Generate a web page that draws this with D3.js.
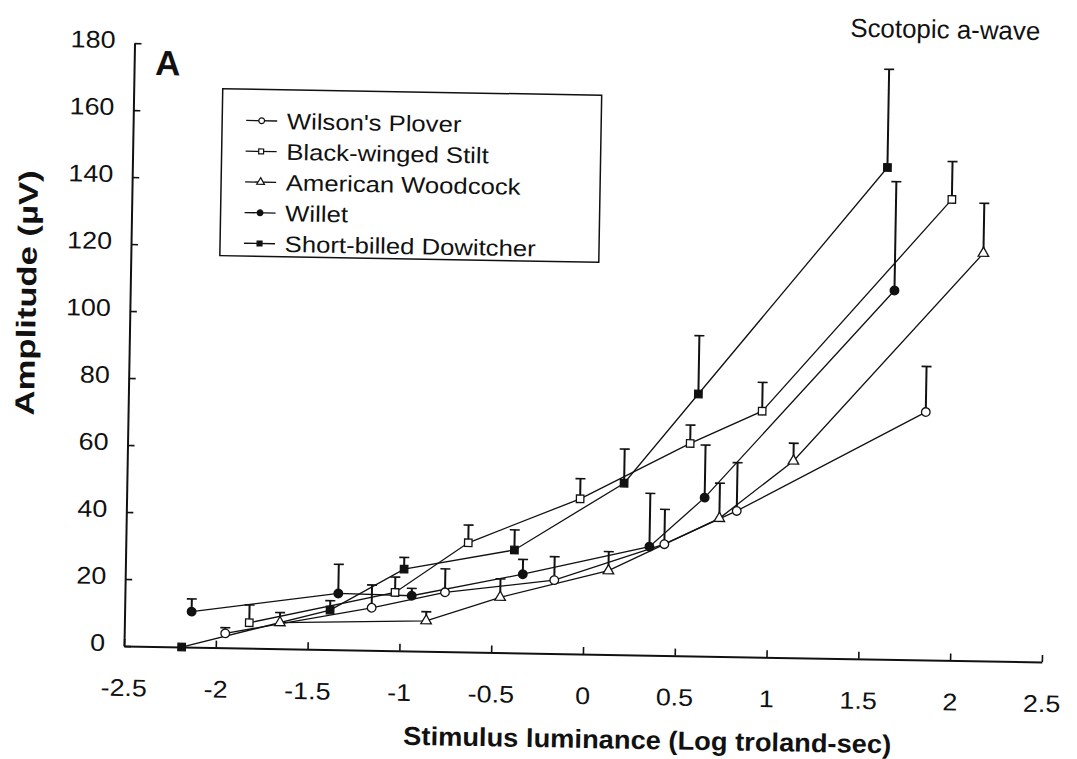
<!DOCTYPE html>
<html>
<head>
<meta charset="utf-8">
<script src="https://cdn.jsdelivr.net/npm/d3@7"></script>
<style>
  html, body { margin: 0; padding: 0; background: #ffffff; }
  svg { display: block; }
  text { font-family: "Liberation Sans", Arial, Helvetica, sans-serif; fill: #111; }
</style>
</head>
<body>
<svg id="chart" width="1077" height="759"></svg>
<script>
// ---- data: stimulus luminance (log troland-sec) vs a-wave amplitude (µV), mean + SE ----
const xTicks = [-2.5, -2, -1.5, -1, -0.5, 0, 0.5, 1, 1.5, 2, 2.5];
const yTicks = [0, 20, 40, 60, 80, 100, 120, 140, 160, 180];

const speciesNames = ["Wilson's Plover", "Black-winged Stilt", "American Woodcock", "Willet", "Short-billed Dowitcher"];
const speciesMarkers = ["circle", "square", "triangle", "circle", "square"];
const speciesFilled = [false, false, false, true, true];

const ploverX = [-1.95, -1.155, -0.757, -0.163, 0.433, 0.824, 1.844];
const ploverY = [4.3, 12.7, 17.7, 21.9, 33.2, 43.5, 74.0];
const ploverSE = [1.7, 6.8, 7.0, 7.0, 10.4, 14.4, 13.6];

const stiltX = [-1.82, -1.029, -0.635, -0.03, 0.564, 0.953, 1.966];
const stiltY = [7.6, 17.4, 32.6, 46.3, 63.4, 73.4, 137.6];
const stiltSE = [5.3, 4.6, 5.3, 6.0, 5.5, 8.6, 11.3];

const woodcockX = [-1.653, -0.857, -0.456, 0.131, 0.73, 1.128, 2.143];
const woodcockY = [7.8, 9.1, 16.5, 25.0, 41.2, 58.7, 121.7];
const woodcockSE = [3.0, 2.7, 5.5, 5.7, 10.5, 5.3, 14.9];

const willetX = [-2.135, -1.338, -0.938, -0.335, 0.352, 0.648, 1.662];
const willetY = [10.6, 16.8, 16.5, 23.5, 32.4, 47.3, 110.1];
const willetSE = [3.8, 8.7, 2.2, 4.4, 15.9, 15.7, 32.5];

const dowitcherX = [-2.186, -1.381, -0.982, -0.383, 0.208, 0.604, 1.612];
const dowitcherY = [0.0, 11.8, 24.4, 30.7, 51.2, 78.2, 146.8];
const dowitcherSE = [0, 2.8, 3.5, 6.0, 10.2, 17.4, 29.3];

const seriesX = [ploverX, stiltX, woodcockX, willetX, dowitcherX];
const seriesY = [ploverY, stiltY, woodcockY, willetY, dowitcherY];
const seriesSE = [ploverSE, stiltSE, woodcockSE, willetSE, dowitcherSE];

// ---- layout ----
const x0 = 124, x1 = 1042, yBase = 646, yTop = 43;
const x = d3.scaleLinear().domain([-2.5, 2.5]).range([x0, x1]);
const y = d3.scaleLinear().domain([0, 180]).range([yBase, yTop]);

const series = speciesNames.map((name, i) => ({
  name, marker: speciesMarkers[i], filled: speciesFilled[i],
  points: seriesX[i].map((xv, j) => ({ x: xv, y: seriesY[i][j], se: seriesSE[i][j] }))
}));

const svg = d3.select("#chart");
// the printed figure sits slightly tilted on the page
const g = svg.append("g").attr("transform", `rotate(1, ${x0}, ${yBase})`);

// widen glyphs to the printed width
function stretch(sel, factor) {
  sel.each(function () {
    const len = this.getComputedTextLength();
    d3.select(this).attr("textLength", len * factor).attr("lengthAdjust", "spacingAndGlyphs");
  });
}

const symbolType = { circle: d3.symbolCircle, square: d3.symbolSquare, triangle: d3.symbolTriangle };
const plotSize = { circle: 58, square: 56, triangle: 48 };
const legendSize = { circle: 26, square: 24, triangle: 26 };

// ---- axes ----
const xAxis = d3.axisBottom(x).tickValues(xTicks).tickFormat(d => String(d))
  .tickSizeInner(-7).tickSizeOuter(0).tickPadding(33);
const gx = g.append("g").attr("transform", `translate(0,${yBase})`).call(xAxis);
gx.select(".domain").attr("stroke", "#111").attr("stroke-width", 2);
gx.selectAll(".tick line").attr("stroke", "#111").attr("stroke-width", 1.6);
gx.selectAll(".tick text").attr("font-size", 24).attr("fill", "#111")
  .style("font-family", "'Liberation Sans', Arial, sans-serif");
stretch(gx.selectAll(".tick text"), 1.12);

const yAxis = d3.axisLeft(y).tickValues(yTicks).tickFormat(d => String(d))
  .tickSizeInner(-7).tickSizeOuter(0).tickPadding(19);
const gy = g.append("g").attr("transform", `translate(${x0},0)`).call(yAxis);
gy.select(".domain").attr("stroke", "#111").attr("stroke-width", 2);
gy.selectAll(".tick line").attr("stroke", "#111").attr("stroke-width", 1.6);
gy.selectAll(".tick text").attr("font-size", 24).attr("fill", "#111").attr("dy", "0.2em")
  .style("font-family", "'Liberation Sans', Arial, sans-serif");
stretch(gy.selectAll(".tick text"), 1.12);

// ---- series lines ----
const line = d3.line().x(d => x(d.x)).y(d => y(d.y));
g.append("g").selectAll("path").data(series).join("path")
  .attr("d", d => line(d.points))
  .attr("fill", "none").attr("stroke", "#111").attr("stroke-width", 1.3);

// ---- error bars (upper SE only) ----
const eb = g.append("g").attr("stroke", "#111");
series.forEach(s => {
  s.points.filter(p => p.se > 0).forEach(p => {
    eb.append("line").attr("x1", x(p.x)).attr("x2", x(p.x))
      .attr("y1", y(p.y)).attr("y2", y(p.y + p.se)).attr("stroke-width", 2);
    eb.append("line").attr("x1", x(p.x) - 5).attr("x2", x(p.x) + 5)
      .attr("y1", y(p.y + p.se)).attr("y2", y(p.y + p.se)).attr("stroke-width", 1.6);
  });
});

// ---- markers ----
series.forEach(s => {
  g.append("g").selectAll("path").data(s.points).join("path")
    .attr("transform", p => `translate(${x(p.x)},${y(p.y)})`)
    .attr("d", d3.symbol().type(symbolType[s.marker]).size(plotSize[s.marker]))
    .attr("fill", s.filled ? "#111" : "#fff")
    .attr("stroke", "#111").attr("stroke-width", 1.3);
});

// ---- legend ----
const lg = g.append("g");
lg.append("rect").attr("x", 213).attr("y", 87).attr("width", 379).attr("height", 167)
  .attr("fill", "#fff").attr("stroke", "#111").attr("stroke-width", 1.5);
series.forEach((s, i) => {
  const ly = 118.4 + i * 30.7;
  lg.append("line").attr("x1", 237).attr("x2", 268).attr("y1", ly).attr("y2", ly)
    .attr("stroke", "#111").attr("stroke-width", 1.3);
  lg.append("path").attr("transform", `translate(252.5,${ly})`)
    .attr("d", d3.symbol().type(symbolType[s.marker]).size(legendSize[s.marker]))
    .attr("fill", s.filled ? "#111" : "#fff").attr("stroke", "#111").attr("stroke-width", 1.2);
  const t = lg.append("text").attr("x", 277.7).attr("y", ly + 8)
    .attr("font-size", 22.5).text(s.name);
  stretch(t, 1.14);
});

// ---- titles and labels ----
g.append("text").attr("x", 145).attr("y", 74.6).attr("font-size", 35)
  .attr("font-weight", "bold").text("A");

g.append("text").attr("x", 839.4).attr("y", 24.1).attr("font-size", 26)
  .attr("textLength", 190).attr("lengthAdjust", "spacingAndGlyphs")
  .text("Scotopic a-wave");

g.append("text").attr("x", 648.8).attr("y", 739.9).attr("text-anchor", "middle")
  .attr("font-size", 26).attr("font-weight", "bold")
  .attr("textLength", 488).attr("lengthAdjust", "spacingAndGlyphs")
  .text("Stimulus luminance (Log troland-sec)");

g.append("text").attr("transform", "translate(29.8,294.6) rotate(-90)")
  .attr("text-anchor", "middle").attr("font-size", 27).attr("font-weight", "bold")
  .attr("textLength", 245).attr("lengthAdjust", "spacingAndGlyphs")
  .text("Amplitude (µV)");
</script>
</body>
</html>
